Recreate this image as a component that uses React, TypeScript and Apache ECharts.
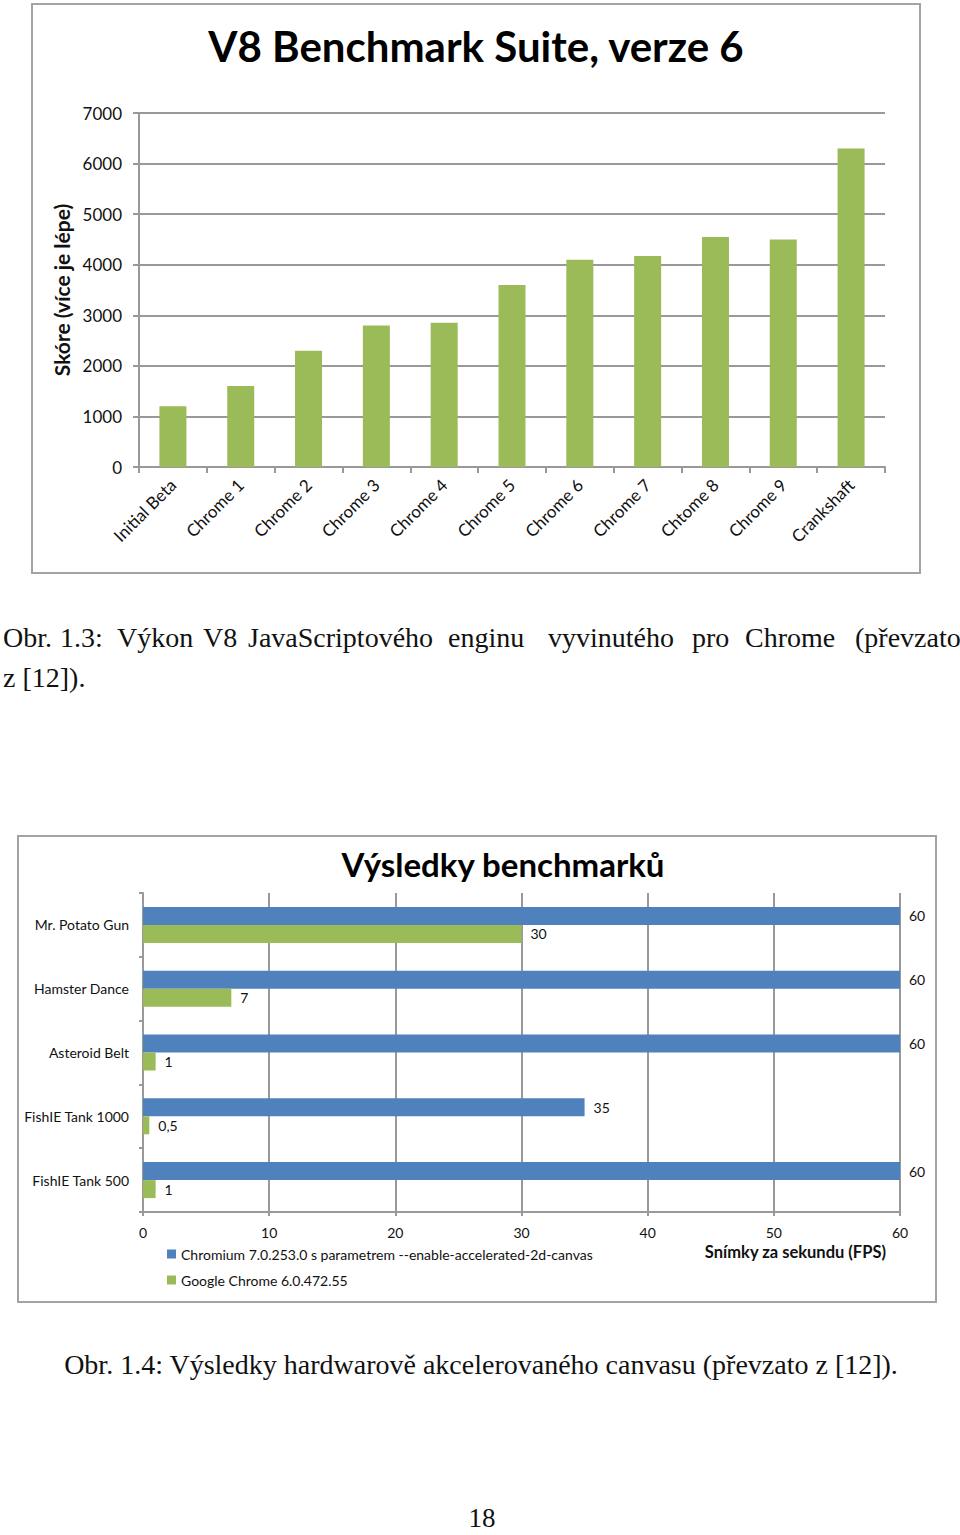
import React, { useEffect, useRef } from "react";
import * as echarts from "echarts";

// ---- Chart 1 data: V8 Benchmark Suite ----
const v8Categories = [
  "Initial Beta",
  "Chrome 1",
  "Chrome 2",
  "Chrome 3",
  "Chrome 4",
  "Chrome 5",
  "Chrome 6",
  "Chrome 7",
  "Chtome 8",
  "Chrome 9",
  "Crankshaft",
];
const v8Scores = [1200, 1600, 2300, 2800, 2850, 3600, 4100, 4170, 4550, 4500, 6300];
const v8Title = "V8 Benchmark Suite, verze 6";
const v8AxisName = "Skóre (více je lépe)";

// ---- Chart 2 data: canvas benchmarks ----
const canvasCategories = [
  "Mr. Potato Gun",
  "Hamster Dance",
  "Asteroid Belt",
  "FishIE Tank 1000",
  "FishIE Tank 500",
];
const chromiumName = "Chromium 7.0.253.0 s parametrem --enable-accelerated-2d-canvas";
const chromeName = "Google Chrome 6.0.472.55";
const chromiumFps = [60, 60, 60, 35, 60];
const chromeFps = [30, 7, 1, 0.5, 1];
const canvasTitle = "Výsledky benchmarků";
const canvasAxisName = "Snímky za sekundu (FPS)";

// ---- Page texts ----
const caption1Words = [
  "Obr.",
  "1.3:",
  "Výkon",
  "V8",
  "JavaScriptového",
  "enginu",
  "vyvinutého",
  "pro",
  "Chrome",
  "(převzato",
];
const caption1Line2 = "z [12]).";
const caption2 = "Obr. 1.4: Výsledky hardwarově akcelerovaného canvasu (převzato z [12]).";
const pageNumber = "18";

// layout (justified word starts of first caption line)
const caption1WordX = [3, 60, 117, 203, 248, 448, 548, 692, 745, 855];

const GRID_GRAY = "#999999";
const BORDER_GRAY = "#a3a3a3";
const GREEN = "#9BBB59";
const BLUE = "#4F81BD";
const SANS = "Lato, 'Open Sans', sans-serif";
const SERIF = "'Liberation Serif', 'DejaVu Serif', serif";

export default function App() {
  const ref = useRef<HTMLDivElement>(null);

  useEffect(() => {
    if (!ref.current) return;
    const chart = echarts.init(ref.current, undefined, { renderer: "svg" });

    const captionGraphics: any[] = caption1Words.map((w, i) => ({
      type: "text",
      x: caption1WordX[i],
      y: 637,
      style: {
        text: w,
        font: `28px ${SERIF}`,
        fill: "#111",
        align: "left",
        verticalAlign: "middle",
      },
    }));

    const commaFmt = (p: any) => String(p.value).replace(".", ",");

    const option: any = {
      animation: false,
      backgroundColor: "#ffffff",
      legend: {
        data: [chromiumName, chromeName],
        orient: "vertical",
        left: 167,
        top: 1247,
        padding: 0,
        itemWidth: 9,
        itemHeight: 9,
        itemGap: 12,
        icon: "rect",
        textStyle: { fontFamily: SANS, fontSize: 14, color: "#111" },
      },
      grid: [
        { left: 139, right: 75, top: 113, bottom: 1535 - 467, containLabel: false },
        { left: 143, right: 60, top: 893, bottom: 1535 - 1212, containLabel: false },
      ],
      xAxis: [
        {
          gridIndex: 0,
          type: "category",
          data: v8Categories,
          axisLine: { show: true, lineStyle: { color: GRID_GRAY, width: 2 } },
          axisTick: { show: true, length: 6, interval: 0, lineStyle: { color: GRID_GRAY, width: 2 } },
          axisLabel: {
            rotate: 45,
            interval: 0,
            margin: 15,
            fontFamily: SANS,
            fontSize: 17,
            color: "#111",
          },
        },
        {
          gridIndex: 1,
          type: "value",
          min: 0,
          max: 60,
          interval: 10,
          axisLine: { show: true, lineStyle: { color: GRID_GRAY, width: 2 } },
          axisTick: { show: true, length: 4, lineStyle: { color: GRID_GRAY, width: 2 } },
          axisLabel: { margin: 13, fontFamily: SANS, fontSize: 14, color: "#111" },
          splitLine: { show: true, lineStyle: { color: GRID_GRAY, width: 2 } },
        },
      ],
      yAxis: [
        {
          gridIndex: 0,
          type: "value",
          min: 0,
          max: 7000,
          interval: 1000,
          name: v8AxisName,
          nameLocation: "middle",
          nameRotate: 90,
          nameGap: 61,
          nameTextStyle: { fontFamily: SANS, fontSize: 21, fontWeight: "bold", color: "#111" },
          axisLine: { show: true, lineStyle: { color: GRID_GRAY, width: 2 } },
          axisTick: { show: true, length: 6, lineStyle: { color: GRID_GRAY, width: 2 } },
          axisLabel: {
            margin: 17,
            fontFamily: SANS,
            fontSize: 17,
            color: "#111",
            formatter: (v: number) => String(v),
          },
          splitLine: { show: true, lineStyle: { color: GRID_GRAY, width: 2 } },
        },
        {
          gridIndex: 1,
          type: "category",
          data: canvasCategories,
          inverse: true,
          axisLine: { show: true, lineStyle: { color: GRID_GRAY, width: 2 } },
          axisTick: { show: true, length: 4, lineStyle: { color: GRID_GRAY, width: 2 } },
          axisLabel: { margin: 14, fontFamily: SANS, fontSize: 14, color: "#111" },
          splitLine: { show: false },
        },
      ],
      series: [
        {
          name: "V8 skóre",
          type: "bar",
          xAxisIndex: 0,
          yAxisIndex: 0,
          data: v8Scores,
          barWidth: 27,
          itemStyle: { color: GREEN },
        },
        {
          name: chromiumName,
          type: "bar",
          xAxisIndex: 1,
          yAxisIndex: 1,
          data: chromiumFps,
          barWidth: 18,
          barGap: "0%",
          itemStyle: { color: BLUE },
          label: {
            show: true,
            position: "right",
            distance: 9,
            fontFamily: SANS,
            fontSize: 14,
            color: "#111",
            formatter: commaFmt,
          },
        },
        {
          name: chromeName,
          type: "bar",
          xAxisIndex: 1,
          yAxisIndex: 1,
          data: chromeFps,
          barWidth: 18,
          barGap: "0%",
          itemStyle: { color: GREEN },
          label: {
            show: true,
            position: "right",
            distance: 9,
            fontFamily: SANS,
            fontSize: 14,
            color: "#111",
            formatter: commaFmt,
          },
        },
      ],
      graphic: [
        {
          type: "rect",
          shape: { x: 32, y: 4, width: 888, height: 569 },
          style: { fill: "none", stroke: BORDER_GRAY, lineWidth: 2 },
          z: -1,
        },
        {
          type: "rect",
          shape: { x: 18, y: 836, width: 918, height: 466 },
          style: { fill: "none", stroke: BORDER_GRAY, lineWidth: 2 },
          z: -1,
        },
        {
          type: "text",
          x: 476,
          y: 46,
          style: {
            text: v8Title,
            font: `bold 42px ${SANS}`,
            fill: "#000",
            align: "center",
            verticalAlign: "middle",
          },
        },
        {
          type: "text",
          x: 503,
          y: 864,
          style: {
            text: canvasTitle,
            font: `bold 33px ${SANS}`,
            fill: "#000",
            align: "center",
            verticalAlign: "middle",
          },
        },
        {
          type: "text",
          x: 886,
          y: 1252,
          style: {
            text: canvasAxisName,
            font: `bold 16.5px ${SANS}`,
            fill: "#111",
            align: "right",
            verticalAlign: "middle",
          },
        },
        ...captionGraphics,
        {
          type: "text",
          x: 3,
          y: 677,
          style: {
            text: caption1Line2,
            font: `28px ${SERIF}`,
            fill: "#111",
            align: "left",
            verticalAlign: "middle",
          },
        },
        {
          type: "text",
          x: 481,
          y: 1364,
          style: {
            text: caption2,
            font: `28px ${SERIF}`,
            fill: "#111",
            align: "center",
            verticalAlign: "middle",
          },
        },
        {
          type: "text",
          x: 482,
          y: 1518,
          style: {
            text: pageNumber,
            font: `27px ${SERIF}`,
            fill: "#111",
            align: "center",
            verticalAlign: "middle",
          },
        },
      ],
    };

    chart.setOption(option);
    return () => chart.dispose();
  }, []);

  return (
    <div
      ref={ref}
      style={{ position: "absolute", left: 0, top: 0, width: 960, height: 1535, background: "#fff" }}
    />
  );
}
